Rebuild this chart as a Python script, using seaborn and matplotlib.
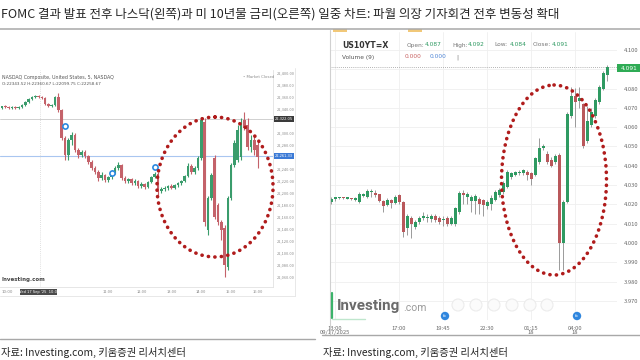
import matplotlib
matplotlib.use("Agg")
import numpy as np
import pandas as pd
import matplotlib.pyplot as plt
import seaborn as sns
from matplotlib.patches import Ellipse, Rectangle, Circle

# ---------------- data ----------------
title_text = "FOMC 결과 발표 전후 나스닥(왼쪽)과 미 10년물 금리(오른쪽) 일중 차트: 파월 의장 기자회견 전후 변동성 확대"
source_text = "자료: Investing.com, 키움증권 리서치센터"

# NASDAQ Composite, 5-min candles (left)
nq_open = [22341, 22344, 22343, 22341, 22343, 22341, 22343, 22346, 22351, 22356,
           22359, 22361, 22359, 22358, 22348, 22344, 22346, 22359, 22338, 22291,
           22263, 22288, 22296, 22271, 22263, 22268, 22261, 22251, 22241, 22234,
           22224, 22229, 22221, 22226, 22234, 22241, 22246, 22224, 22219, 22223,
           22216, 22219, 22211, 22214, 22209, 22218, 22226, 22231, 22203, 22206,
           22208, 22211, 22208, 22213, 22216, 22219, 22228, 22244, 22234, 22241,
           22258, 22318, 22138, 22191, 22258, 22179, 22151, 22141, 22076, 22191,
           22246, 22254, 22259, 22321, 22313, 22276, 22288, 22279]
nq_high = [22344, 22346, 22344, 22344, 22344, 22344, 22348, 22353, 22358, 22361,
           22363, 22363, 22361, 22359, 22349, 22348, 22361, 22366, 22339, 22294,
           22291, 22301, 22299, 22274, 22271, 22271, 22263, 22254, 22244, 22238,
           22234, 22231, 22228, 22238, 22244, 22251, 22248, 22228, 22224, 22224,
           22223, 22221, 22218, 22216, 22219, 22228, 22234, 22234, 22209, 22211,
           22213, 22214, 22214, 22218, 22221, 22229, 22249, 22248, 22244, 22261,
           22326, 22324, 22194, 22233, 22263, 22183, 22154, 22146, 22194, 22249,
           22288, 22313, 22324, 22334, 22324, 22296, 22296, 22288]
nq_low = [22339, 22341, 22339, 22339, 22339, 22339, 22341, 22344, 22349, 22354,
          22358, 22358, 22356, 22346, 22343, 22343, 22344, 22334, 22288, 22254,
          22254, 22279, 22268, 22258, 22259, 22258, 22248, 22238, 22231, 22219,
          22221, 22218, 22218, 22223, 22231, 22238, 22221, 22216, 22216, 22213,
          22213, 22208, 22208, 22206, 22208, 22216, 22224, 22196, 22199, 22203,
          22204, 22206, 22206, 22209, 22213, 22218, 22226, 22231, 22231, 22238,
          22254, 22144, 22129, 22188, 22156, 22146, 22121, 22059, 22071, 22188,
          22243, 22251, 22254, 22304, 22271, 22268, 22263, 22241]
nq_close = [22344, 22343, 22341, 22343, 22341, 22343, 22346, 22351, 22356, 22359,
            22361, 22359, 22358, 22348, 22344, 22346, 22359, 22338, 22291, 22263,
            22288, 22296, 22271, 22263, 22268, 22261, 22251, 22241, 22234, 22224,
            22229, 22221, 22226, 22234, 22241, 22246, 22224, 22219, 22223, 22216,
            22219, 22211, 22214, 22209, 22218, 22226, 22231, 22203, 22206, 22208,
            22211, 22208, 22213, 22216, 22219, 22228, 22244, 22234, 22241, 22258,
            22321, 22151, 22191, 22229, 22159, 22151, 22138, 22079, 22191, 22246,
            22283, 22304, 22316, 22308, 22276, 22288, 22271, 22259]
nq_event_idx = [19, 33, 46]
nq_event_price = [22311, 22233, 22243]
nq_yticks = [22060, 22080, 22100, 22120, 22140, 22160, 22180, 22200, 22220,
             22240, 22280, 22300, 22340, 22360, 22380, 22400]
nq_xtick_pos = [32, 42, 51, 60, 69, 77]
nq_xtick_labels = ["11:00", "12:00", "13:00", "14:00", "15:00", "16:00"]
nq_last = 22261.33
nq_ref = 22322.05

# US 10Y yield, 15-min candles (right)
us_open = [4.0210, 4.0230, 4.0232, 4.0232, 4.0230, 4.0228, 4.0224, 4.0214, 4.0244, 4.0240,
           4.0262, 4.0258, 4.0252, 4.0218, 4.0196, 4.0222, 4.0208, 4.0248, 4.0212, 4.0080,
           4.0130, 4.0082, 4.0110, 4.0132, 4.0128, 4.0122, 4.0142, 4.0130, 4.0120, 4.0132,
           4.0100, 4.0100, 4.0160, 4.0260, 4.0240, 4.0220, 4.0220, 4.0230, 4.0222, 4.0190,
           4.0200, 4.0222, 4.0250, 4.0262, 4.0290, 4.0340, 4.0352, 4.0360, 4.0360, 4.0370,
           4.0360, 4.0352, 4.0420, 4.0492, 4.0460, 4.0430, 4.0420, 4.0458, 4.0000, 4.0210,
           4.0660, 4.0760, 4.0735, 4.0720, 4.0530, 4.0610, 4.0660, 4.0730, 4.0800, 4.0870]
us_high = [4.0240, 4.0240, 4.0238, 4.0236, 4.0234, 4.0234, 4.0238, 4.0262, 4.0258, 4.0280,
           4.0282, 4.0272, 4.0256, 4.0222, 4.0232, 4.0228, 4.0250, 4.0256, 4.0220, 4.0150,
           4.0140, 4.0120, 4.0140, 4.0160, 4.0148, 4.0150, 4.0150, 4.0142, 4.0140, 4.0140,
           4.0140, 4.0186, 4.0270, 4.0272, 4.0262, 4.0250, 4.0252, 4.0240, 4.0230, 4.0225,
           4.0250, 4.0272, 4.0285, 4.0320, 4.0380, 4.0368, 4.0372, 4.0380, 4.0385, 4.0378,
           4.0368, 4.0446, 4.0544, 4.0515, 4.0475, 4.0445, 4.0460, 4.0465, 4.0225, 4.0680,
           4.0810, 4.0805, 4.0810, 4.0725, 4.0710, 4.0700, 4.0750, 4.0820, 4.0890, 4.0920]
us_low = [4.0200, 4.0220, 4.0228, 4.0228, 4.0226, 4.0222, 4.0220, 4.0208, 4.0236, 4.0232,
          4.0240, 4.0236, 4.0212, 4.0158, 4.0190, 4.0180, 4.0204, 4.0200, 4.0030, 4.0040,
          4.0026, 4.0070, 4.0100, 4.0120, 4.0110, 4.0110, 4.0108, 4.0098, 4.0090, 4.0090,
          4.0092, 4.0090, 4.0150, 4.0200, 4.0200, 4.0160, 4.0150, 4.0150, 4.0140, 4.0175,
          4.0170, 4.0215, 4.0240, 4.0255, 4.0285, 4.0332, 4.0345, 4.0350, 4.0352, 4.0326,
          4.0300, 4.0345, 4.0410, 4.0480, 4.0410, 4.0395, 4.0410, 3.9860, 3.9860, 4.0205,
          4.0650, 4.0600, 4.0700, 4.0490, 4.0520, 4.0600, 4.0650, 4.0720, 4.0790, 4.0840]
us_close = [4.0230, 4.0230, 4.0234, 4.0231, 4.0230, 4.0226, 4.0234, 4.0252, 4.0252, 4.0270,
            4.0262, 4.0250, 4.0218, 4.0190, 4.0222, 4.0208, 4.0240, 4.0212, 4.0057, 4.0140,
            4.0100, 4.0110, 4.0130, 4.0140, 4.0135, 4.0140, 4.0118, 4.0110, 4.0122, 4.0100,
            4.0132, 4.0180, 4.0260, 4.0250, 4.0252, 4.0240, 4.0244, 4.0200, 4.0195, 4.0212,
            4.0232, 4.0264, 4.0276, 4.0310, 4.0368, 4.0360, 4.0368, 4.0368, 4.0380, 4.0352,
            4.0330, 4.0440, 4.0490, 4.0500, 4.0420, 4.0400, 4.0450, 4.0000, 4.0212, 4.0670,
            4.0760, 4.0730, 4.0750, 4.0500, 4.0630, 4.0680, 4.0740, 4.0810, 4.0880, 4.0910]
us_yticks = [3.970, 3.980, 3.990, 4.000, 4.010, 4.020, 4.030, 4.040, 4.050,
             4.060, 4.070, 4.080, 4.100]
us_xtick_pos = [1, 17, 28, 39, 50, 61]
us_xtick_labels = ["13:00\n09/17/2025", "17:00", "19:45", "22:30", "01:15\n18", "04:00\n18"]
us_last = 4.091

# ---------------- style ----------------
sns.set_theme(style="white")
plt.rcParams['font.family'] = ['Noto Sans CJK KR', 'DejaVu Sans']

W, H = 640, 360
fig = plt.figure(figsize=(6.4, 3.6), dpi=100)
fig.patch.set_facecolor("white")


def rect(x0, y0, x1, y1):
    return [x0 / W, 1 - y1 / H, (x1 - x0) / W, (y1 - y0) / H]


def candles(ax, o, h, l, c, up, dn, wick=None, width=0.7, min_body=0.0, lw=0.6):
    df = pd.DataFrame(dict(open=o, high=h, low=l, close=c))
    df["idx"] = np.arange(len(df))
    col = np.where(df["close"] >= df["open"], up, dn)
    ax.vlines(df["idx"], df["low"], df["high"], colors=(col if wick is None else wick),
              lw=lw, zorder=2)
    body = (df["close"] - df["open"]).abs().clip(lower=min_body)
    ax.bar(df["idx"], body, bottom=np.minimum(df["open"], df["close"]), width=width,
           color=col, lw=0, zorder=3)
    return df


# ---------------- left chart: NASDAQ ----------------
axL = fig.add_axes(rect(0, 70, 273, 287))
axL.set_facecolor("white")
candles(axL, nq_open, nq_high, nq_low, nq_close, "#3a9c6c", "#c4626a",
        width=0.8, min_body=1.0, lw=0.8)
axL.set_xlim(-0.6, 81.6)
axL.set_ylim(22042.7, 22404.3)
axL.axhline(nq_ref, color="#c9c9c9", lw=0.6, zorder=1)
axL.axhline(nq_last, color="#a9c6f0", lw=0.8, zorder=1)
axL.axvline(11.4, color="#d5d5d5", lw=0.6, ls=(0, (1, 1.5)), zorder=1)
ev = pd.DataFrame(dict(idx=nq_event_idx, price=nq_event_price))
sns.scatterplot(data=ev, x="idx", y="price", ax=axL, s=14, facecolor="white",
                edgecolor="#2b8ae0", linewidth=1.2, zorder=5, legend=False)
axL.set_xlabel("")
axL.set_ylabel("")
axL.yaxis.tick_right()
axL.set_yticks(nq_yticks)
axL.set_yticklabels([f"{v:,.2f}" for v in nq_yticks])
axL.set_xticks(nq_xtick_pos)
axL.set_xticklabels(nq_xtick_labels)
axL.tick_params(axis="y", length=0, pad=2.5, labelsize=2.8, colors="#8a8a8a")
axL.tick_params(axis="x", length=0, pad=2.2, labelsize=2.9, colors="#8a8a8a")
for s in ["top", "left"]:
    axL.spines[s].set_visible(False)
for s in ["right", "bottom"]:
    axL.spines[s].set_color("#e2e2e2")
    axL.spines[s].set_linewidth(0.6)

# ---------------- right chart: US 10Y ----------------
axR = fig.add_axes(rect(330, 32, 617, 320))
axR.set_facecolor("white")
axR.set_xlim(-0.25, 71.5)
axR.set_ylim(3.9601, 4.1093)
axR.set_yticks(us_yticks)
axR.set_yticklabels([f"{v:.3f}" for v in us_yticks])
axR.set_xticks(us_xtick_pos)
axR.set_xticklabels(us_xtick_labels, linespacing=0.9)
axR.yaxis.tick_right()
axR.grid(True, color="#efefef", lw=0.6)
axR.axhline(4.09, color="#efefef", lw=0.6, zorder=0)
axR.set_axisbelow(True)
axR.tick_params(axis="y", length=0, pad=5, labelsize=4.2, colors="#6a6a6a")
axR.tick_params(axis="x", length=0, pad=4, labelsize=4.2, colors="#6a6a6a")
for s in axR.spines.values():
    s.set_visible(False)
candles(axR, us_open, us_high, us_low, us_close, "#2f9a62", "#b9585b",
        wick="#9a9a9a", width=0.75, min_body=0.0006, lw=0.7)
axR.axhline(us_last, color="#9a9a9a", lw=0.6, ls=(0, (1, 1.5)), zorder=1)

# ---------------- overlay (page decorations) ----------------
ov = fig.add_axes([0, 0, 1, 1], zorder=10)
ov.set_xlim(0, W)
ov.set_ylim(H, 0)
ov.axis("off")
ov.patch.set_alpha(0)

# title + rule
ov.text(1, 14, title_text, fontsize=9.0, color="#262626", va="center", ha="left")
ov.plot([0, 640], [28.5, 28.5], color="#a8a8a8", lw=1.1)
# yellow tabs of the right screenshot
for x0 in (333, 408):
    ov.add_patch(Rectangle((x0, 29), 14, 2.5, color="#f1c879", lw=0))

# left screenshot frame / texts
ov.plot([295, 295], [68, 296], color="#e4e4e4", lw=0.6)
ov.plot([0, 295], [296, 296], color="#e4e4e4", lw=0.6)
ov.text(2, 77, "NASDAQ Composite, United States, 5, NASDAQ", fontsize=3.4,
        color="#555555", ha="left", va="center", family="DejaVu Sans")
ov.text(2, 84, "O:22343.52 H:22360.67 L:22099.75 C:22258.67", fontsize=3.0,
        color="#555555", ha="left", va="center", family="DejaVu Sans")
ov.text(243, 77, "• Market Closed", fontsize=2.8, color="#8a8a8a", ha="left",
        va="center", family="DejaVu Sans")
ov.text(2, 280, "Investing.com", fontsize=4, color="#444444", ha="left",
        va="center", weight="bold", family="DejaVu Sans")
ov.add_patch(Rectangle((274, 116), 20, 6, color="#3a3a3a", lw=0))
ov.text(284, 119, f"{nq_ref:,.2f}", fontsize=2.6, color="white", ha="center",
        va="center", family="DejaVu Sans")
ov.add_patch(Rectangle((274, 153), 20, 6, color="#3b7ad6", lw=0))
ov.text(284, 156, f"{nq_last:,.2f}", fontsize=2.6, color="white", ha="center",
        va="center", family="DejaVu Sans")
ov.add_patch(Rectangle((20, 289), 37, 6, color="#4a4a4a", lw=0))
ov.text(38.5, 292, "Wed 17 Sep '25  10:00", fontsize=2.6, color="white",
        ha="center", va="center", family="DejaVu Sans")
ov.text(2, 292, "10:00", fontsize=2.9, color="#8a8a8a", ha="left", va="center",
        family="DejaVu Sans")

# right screenshot frame / texts
ov.plot([330, 330], [30, 335], color="#d0d0d0", lw=0.8)
ov.text(342, 45, "US10YT=X", fontsize=5.6, color="#333333", weight="bold",
        ha="left", va="center", family="DejaVu Sans")
hdr = [(407, "Open:", "#777777"), (425, "4.087", "#2f9a62"), (452, "High:", "#777777"),
       (468, "4.092", "#2f9a62"), (494, "Low:", "#777777"), (510, "4.084", "#2f9a62"),
       (533, "Close:", "#777777"), (552, "4.091", "#2f9a62")]
for x, t, c in hdr:
    ov.text(x, 45, t, fontsize=4.2, color=c, ha="left", va="center", family="DejaVu Sans")
ov.text(342, 57, "Volume (9)", fontsize=4.2, color="#555555", ha="left", va="center",
        family="DejaVu Sans")
ov.text(405, 57, "0.000", fontsize=4.2, color="#c96262", ha="left", va="center",
        family="DejaVu Sans")
ov.text(430, 57, "0.000", fontsize=4.2, color="#4f86d6", ha="left", va="center",
        family="DejaVu Sans")
ov.text(456, 57, "|", fontsize=4.2, color="#777777", ha="left", va="center",
        family="DejaVu Sans")
ov.add_patch(Rectangle((617, 64), 23, 8, color="#2fab55", lw=0))
ov.text(621, 68, "4.091", fontsize=4.2, color="white", ha="left", va="center",
        family="DejaVu Sans")
# investing logo
ov.plot([331.5, 331.5], [293, 318], color="#3bb36a", lw=1.6)
ov.plot([331.5, 365], [318.5, 318.5], color="#bfe6cd", lw=1.0)
ov.text(337, 306, "Investing", fontsize=11, color="#6a6a6a", weight="bold",
        ha="left", va="center", family="Roboto")
ov.text(403, 308, ".com", fontsize=7.5, color="#9a9a9a", ha="left", va="center",
        family="Roboto")
for x in (458, 476, 494, 512, 530, 547):
    ov.add_patch(Circle((x, 305), 6, facecolor="#fbfbfb", edgecolor="#ececec", lw=0.8))
for x in (445, 577):
    ov.add_patch(Circle((x, 316), 4.2, color="#2f86de", lw=0))
    ov.text(x, 316, "fx", fontsize=3, color="white", ha="center", va="center",
            family="DejaVu Sans")

# red dotted ellipses
for (cx, cy, w, h) in [(215, 187, 116, 140), (554, 180, 105, 190)]:
    e = Ellipse((cx, cy), w, h, fill=False, edgecolor="#b01c1c", lw=2.6,
                ls=(0, (0.05, 1.75)))
    e.set_capstyle("round")
    ov.add_patch(e)

# sources + rules
ov.plot([0, 315], [339, 339], color="#a8a8a8", lw=1.0)
ov.plot([322, 640], [335, 335], color="#a8a8a8", lw=1.0)
ov.text(1, 352, source_text, fontsize=7.4, color="#262626", ha="left", va="center")
ov.text(323, 352, source_text, fontsize=7.4, color="#262626", ha="left", va="center")

fig.savefig("out.png", dpi=100, facecolor="white")
